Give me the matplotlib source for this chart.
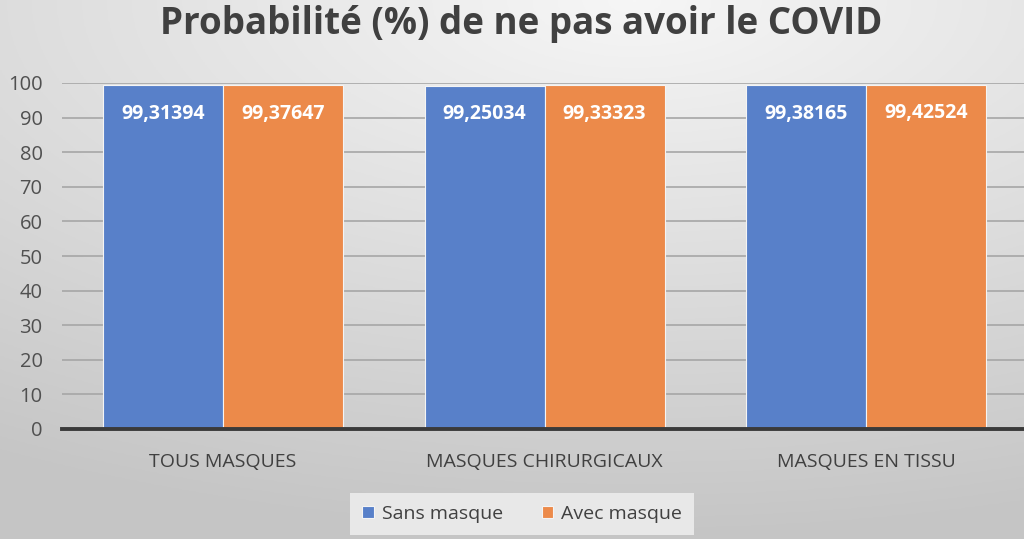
import numpy as np
import matplotlib
matplotlib.use("Agg")
import matplotlib.pyplot as plt

categories = ["TOUS MASQUES", "MASQUES CHIRURGICAUX", "MASQUES EN TISSU"]
sans_masque = [99.31394, 99.25034, 99.38165]
avec_masque = [99.37647, 99.33323, 99.42524]
sans_labels = ["99,31394", "99,25034", "99,38165"]
avec_labels = ["99,37647", "99,33323", "99,42524"]
series_names = ["Sans masque", "Avec masque"]
yticks = [0, 10, 20, 30, 40, 50, 60, 70, 80, 90, 100]

plt.rcParams['font.family'] = ['Open Sans', 'DejaVu Sans']

W, H = 1024, 539
fig = plt.figure(figsize=(W / 100, H / 100), dpi=100)

# gradient background
bg = fig.add_axes([0, 0, 1, 1], zorder=-10)
yy, xx = np.mgrid[0:1:200j, 0:1:380j]
d = np.sqrt(((xx - 0.62) * 1.0) ** 2 + ((yy - 0.0) * 1.2) ** 2)
val = 0.965 - 0.16 * np.clip(d, 0, 1.2)
img = np.dstack([val, val, val])
bg.imshow(img, aspect='auto', extent=[0, 1, 1, 0])
bg.axis('off')

ax = fig.add_axes([62 / W, 1 - 429 / H, 1 - 62 / W, (429 - 83) / H])
ax.set_facecolor('none')

x = np.arange(len(categories))
bw = 0.373
blue = '#5880C9'
orange = '#EC8A4A'
b1 = ax.bar(x - bw / 2, sans_masque, bw, color=blue, edgecolor='#f4f4f4', linewidth=0.8, label=series_names[0], zorder=3)
b2 = ax.bar(x + bw / 2, avec_masque, bw, color=orange, edgecolor='#f4f4f4', linewidth=0.8, label=series_names[1], zorder=3)

for bars, labels in ((b1, sans_labels), (b2, avec_labels)):
    for r, t in zip(bars, labels):
        ax.text(r.get_x() + r.get_width() / 2, r.get_height() - 8.2, t, ha='center', va='center',
                color='white', fontsize=14, fontweight='bold', zorder=5)

ax.set_xlim(-0.5, 2.49)
ax.set_ylim(0, 100)
ax.set_yticks(yticks)
ax.set_yticklabels([str(v) for v in yticks], fontsize=14.5, color='#505050')
ax.set_xticks(x)
ax.set_xticklabels(categories, fontsize=14, color='#404040')
ax.tick_params(axis='both', length=0)
ax.tick_params(axis='y', pad=14)
ax.tick_params(axis='x', pad=17)
ax.grid(axis='y', color='#a6a6a6', linewidth=1.2, zorder=0)
ax.set_axisbelow(True)
for s in ['top', 'right', 'left']:
    ax.spines[s].set_visible(False)
ax.spines['bottom'].set_color('#3a3a3a')
ax.spines['bottom'].set_linewidth(2.8)
ax.spines['bottom'].set_zorder(6)

fig.text(0.509, 0.955, "Probabilité (%) de ne pas avoir le COVID", ha='center', va='center',
         fontsize=26.5, fontweight='bold', color='#404040')

leg = fig.legend(handles=[b1, b2], labels=series_names, loc='center', bbox_to_anchor=(522 / W, 1 - 514 / H),
                 ncol=2, frameon=True, fontsize=14, handlelength=0.6, handleheight=0.6,
                 handletextpad=0.4, columnspacing=2.0, borderpad=0.6, borderaxespad=0,
                 fancybox=False)
leg.get_frame().set_facecolor('#ececec')
leg.get_frame().set_edgecolor('none')
leg.get_frame().set_alpha(0.9)
for t in leg.get_texts():
    t.set_color('#404040')

fig.savefig('out.png', dpi=100)
